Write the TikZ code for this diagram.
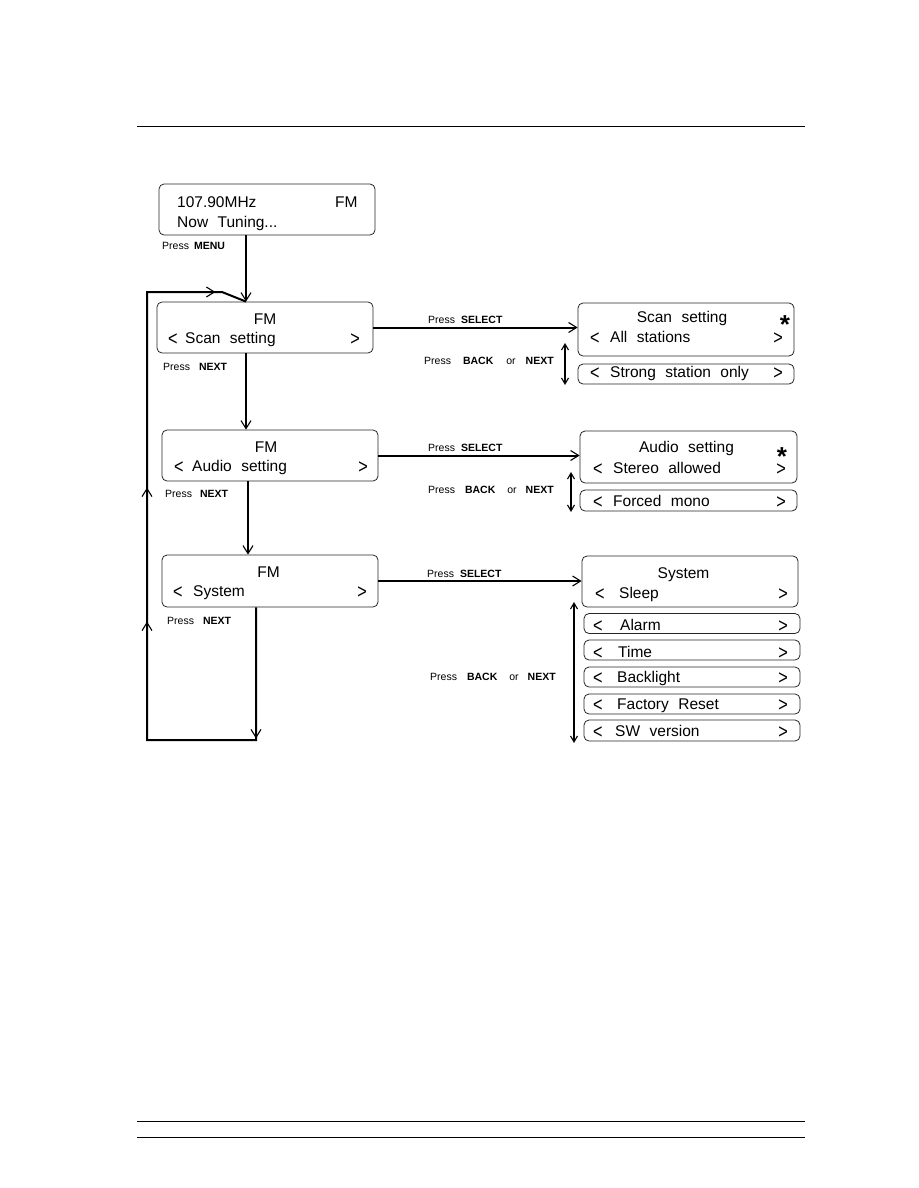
\documentclass[tikz,border=0pt]{standalone}
\usepackage{fontspec}
\setmainfont{Liberation Sans}
\newfontfamily\lcdfont[WordSpace=2.2]{Liberation Sans}
\usetikzlibrary{arrows.meta,decorations.markings}
\newcommand\chevl{\raisebox{-2.5pt}{\scalebox{1.05}[1.3]{<}}}
\newcommand\chevr{\raisebox{-2.5pt}{\scalebox{1.05}[1.3]{>}}}
\newcommand\bigstar{\raisebox{-12pt}[8.5pt][0pt]{*}}
\tikzset{
  hd/.tip={Straight Barb[length=8pt,width=10pt,line width=1.1pt]},
  sm/.tip={Straight Barb[length=6pt,width=7pt,line width=1.1pt]},
  lcd/.style={draw=black!85,line width=0.8pt,rounded corners=5pt,inner sep=0pt,minimum width=216pt},
  big/.style={font=\lcdfont\fontsize{15.5}{18}\selectfont,inner sep=0pt,anchor=base west},
  bigc/.style={big,anchor=base},
  bigr/.style={big,anchor=base east},
  star/.style={font=\bfseries\fontsize{26}{26}\selectfont,inner sep=0pt,anchor=center},
  press/.style={font=\fontsize{10.5}{12}\selectfont,inner sep=0pt,anchor=base west},
  link/.style={line width=2pt,arrows={-hd}},
  dbl/.style={line width=1.8pt,arrows={sm-sm}},
  rule/.style={line width=1pt}
}
\begin{document}
\begin{tikzpicture}[x=1pt,y=-1pt]
\useasboundingbox (0,0) rectangle (918,1188);
% header / footer rules
\coordinate (h1) at (137,127); \coordinate (h2) at (805,127);
\coordinate (f1) at (137,1121); \coordinate (f2) at (805,1121);
\coordinate (g1) at (137,1137); \coordinate (g2) at (805,1137);
\draw[rule] (h1) -- (h2);
\draw[rule] (f1) -- (f2);
\draw[rule] (g1) -- (g2);

% left column
\node[lcd,minimum height=51pt] (b0) at (267,209.5) {};
\node[big] (b0a) at (177,207) {107.90MHz};
\node[big] (b0b) at (335,207) {FM};
\node[big] (b0c) at (177,227) {Now Tuning...};
\node[press] (p0) at (162,249) {Press\hspace{5pt}\textbf{MENU}};

\node[lcd,minimum height=51pt] (b1) at (265,327.5) {};
\node[bigc] (b1t) at (265,324) {FM};
\node[big] (b1l) at (168,343) {\chevl};
\node[big] (b1x) at (185,343) {Scan setting};
\node[bigr] (b1r) at (360,343) {\chevr};
\node[press] (p1) at (163,370) {Press\hspace{9pt}\textbf{NEXT}};

\node[lcd,minimum height=51pt] (b2) at (270,455.5) {};
\node[bigc] (b2t) at (266,452) {FM};
\node[big] (b2l) at (174,471) {\chevl};
\node[big] (b2x) at (192,471) {Audio setting};
\node[bigr] (b2r) at (368,471) {\chevr};
\node[press] (p2) at (165,497) {Press\hspace{8pt}\textbf{NEXT}};

\node[lcd,minimum height=52pt] (b3) at (270,581) {};
\node[bigc] (b3t) at (268.5,577) {FM};
\node[big] (b3l) at (173,596) {\chevl};
\node[big] (b3x) at (193,596) {System};
\node[bigr] (b3r) at (367,596) {\chevr};
\node[press] (p3) at (167,624) {Press\hspace{9pt}\textbf{NEXT}};

% right column: scan setting
\node[lcd,minimum height=53pt] (r1) at (686,329.5) {};
\node[bigc] (r1t) at (682,322) {Scan setting};
\node[star] (r1s) at (785,317) {\bigstar};
\node[big] (r1l) at (590,342) {\chevl};
\node[big] (r1x) at (610,342) {All stations};
\node[bigr] (r1r) at (783,342) {\chevr};
\node[lcd,minimum height=20pt] (r1b) at (686,374) {};
\node[big] (r1bl) at (590,377) {\chevl};
\node[big] (r1bx) at (610,377) {Strong station only};
\node[bigr] (r1br) at (783,377) {\chevr};
\node[press] (s1) at (428,323) {Press\hspace{6pt}\textbf{SELECT}};
\node[press] (k1) at (424,364) {Press\hspace{12pt}\textbf{BACK}\hspace{13pt}or\hspace{10pt}\textbf{NEXT}};

% audio setting
\node[lcd,minimum height=52pt,minimum width=217pt] (r2) at (688.5,457) {};
\node[bigc] (r2t) at (686.5,452) {Audio setting};
\node[star] (r2s) at (782,449) {\bigstar};
\node[big] (r2l) at (593,473) {\chevl};
\node[big] (r2x) at (613,473) {Stereo allowed};
\node[bigr] (r2r) at (786,473) {\chevr};
\node[lcd,minimum height=21pt,minimum width=217pt] (r2b) at (688.5,500.5) {};
\node[big] (r2bl) at (593,506) {\chevl};
\node[big] (r2bx) at (613,506) {Forced mono};
\node[bigr] (r2br) at (786,506) {\chevr};
\node[press] (s2) at (428,451) {Press\hspace{6pt}\textbf{SELECT}};
\node[press] (k2) at (428,493) {Press\hspace{10pt}\textbf{BACK}\hspace{12pt}or\hspace{9pt}\textbf{NEXT}};

% system
\node[lcd,minimum height=51pt] (r3) at (690,581.5) {};
\node[bigc] (r3t) at (683.5,578) {System};
\node[big] (r3l) at (595,598) {\chevl};
\node[big] (r3x) at (619,598) {Sleep};
\node[bigr] (r3r) at (788,598) {\chevr};

\node[lcd,minimum height=20pt] (i1) at (692,623.5) {};
\node[big] (i1l) at (593,630) {\chevl};
\node[big] (i1x) at (620,630) {Alarm};
\node[bigr] (i1r) at (788,630) {\chevr};
\node[lcd,minimum height=20pt] (i2) at (692,650) {};
\node[big] (i2l) at (593,657) {\chevl};
\node[big] (i2x) at (618,657) {Time};
\node[bigr] (i2r) at (788,657) {\chevr};
\node[lcd,minimum height=20pt] (i3) at (692,677) {};
\node[big] (i3l) at (593,682) {\chevl};
\node[big] (i3x) at (617,682) {Backlight};
\node[bigr] (i3r) at (788,682) {\chevr};
\node[lcd,minimum height=20pt] (i4) at (692,704) {};
\node[big] (i4l) at (593,709) {\chevl};
\node[big] (i4x) at (617,709) {Factory Reset};
\node[bigr] (i4r) at (788,709) {\chevr};
\node[lcd,minimum height=21pt] (i5) at (692,730.5) {};
\node[big] (i5l) at (593,736) {\chevl};
\node[big] (i5x) at (615,736) {SW version};
\node[bigr] (i5r) at (788,736) {\chevr};
\node[press] (s3) at (427,577) {Press\hspace{6pt}\textbf{SELECT}};
\node[press] (k3) at (430,680) {Press\hspace{10pt}\textbf{BACK}\hspace{12pt}or\hspace{9pt}\textbf{NEXT}};

% connectors
\coordinate (m1) at (246,0);
\coordinate (m2) at (248,0);
\coordinate (m3) at (256,0);
\draw[link] (b0.south -| m1) -- (b1.north -| m1);
\draw[link] (b1.south -| m1) -- (b2.north -| m1);
\draw[link] (b2.south -| m2) -- (b3.north -| m2);

\coordinate (lb) at (256,740);
\coordinate (ll) at (147,740);
\coordinate (lt) at (147,292);
\coordinate (lm) at (222,292);
\draw[line width=2pt,postaction={decorate},
  decoration={markings,
    mark=at position 131pt with {\arrow{hd}},
    mark=at position 360pt with {\arrow{hd}},
    mark=at position 494pt with {\arrow{hd}},
    mark=at position 758pt with {\arrow{hd}}}]
  (b3.south -| m3) -- (lb) -- (ll) -- (lt) -- (lm) -- (b1.north -| m1);

\draw[link] (b1.east) -- (b1.east -| r1.west);
\draw[link] (b2.east) -- (b2.east -| r2.west);
\draw[link] (b3.east) -- (b3.east -| r3.west);

\coordinate (d1t) at (565,343); \coordinate (d1b) at (565,385);
\coordinate (d2t) at (571,472); \coordinate (d2b) at (571,512);
\coordinate (d3t) at (574,602); \coordinate (d3b) at (574,743);
\draw[dbl] (d1t) -- (d1b);
\draw[dbl] (d2t) -- (d2b);
\draw[dbl] (d3t) -- (d3b);
\end{tikzpicture}
\end{document}
